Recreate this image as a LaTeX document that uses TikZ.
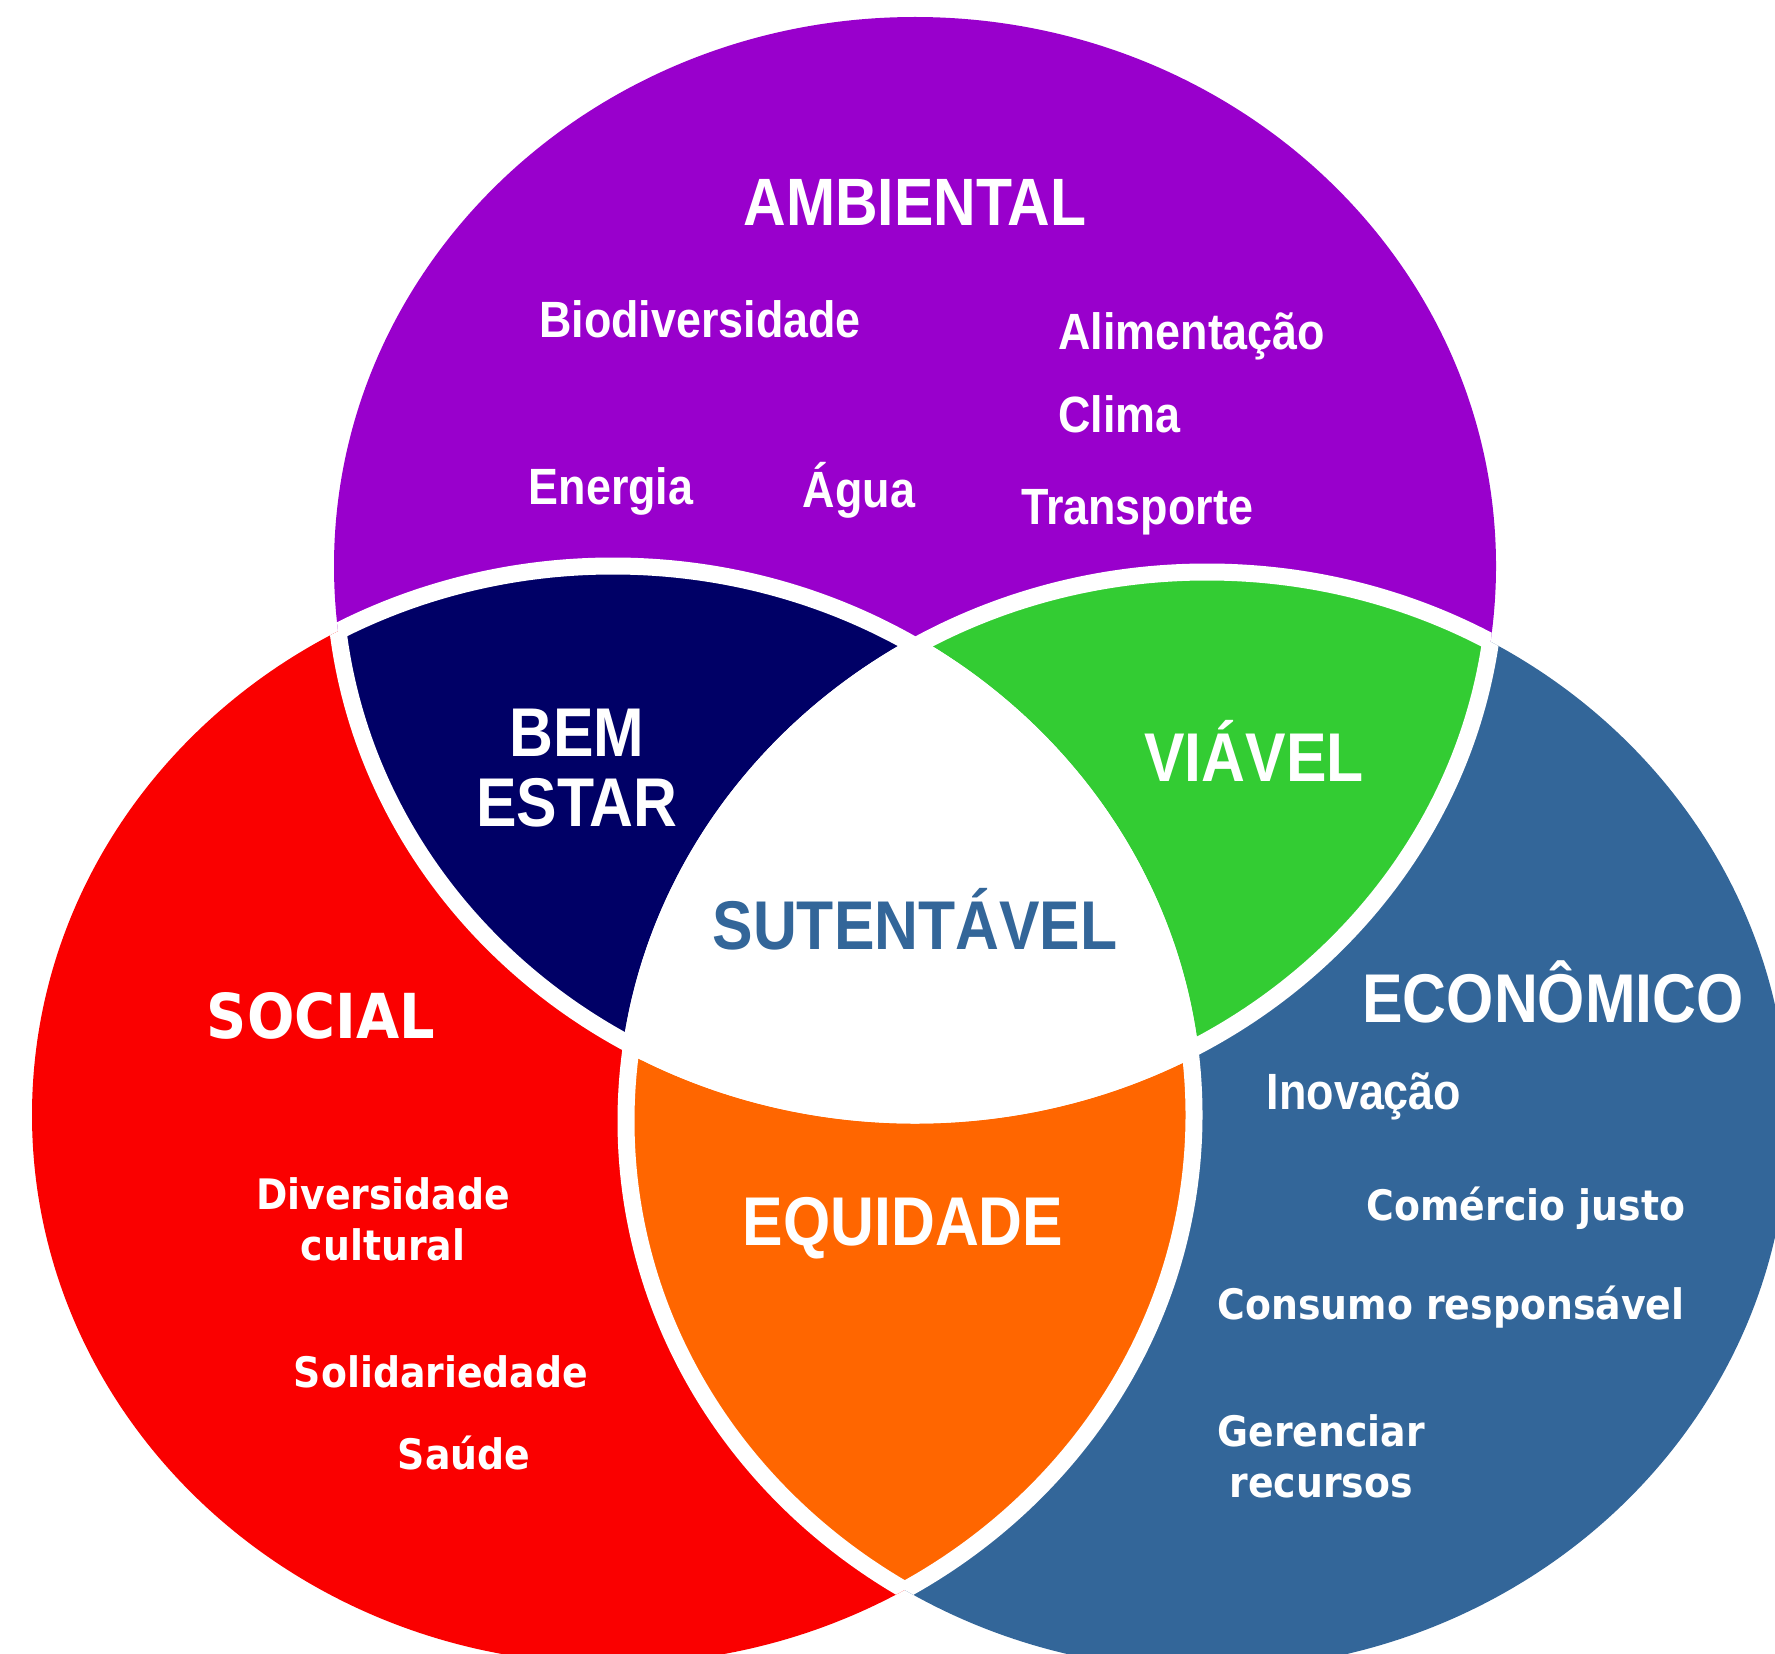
\documentclass[tikz,border=0pt]{standalone}
\usepackage{fontspec}
\newfontfamily\arf[FakeStretch=0.88]{Liberation Sans}
\newfontfamily\vdf[FakeStretch=0.9]{DejaVu Sans}
\definecolor{cpurple}{HTML}{9900CC}
\definecolor{cred}{HTML}{FA0000}
\definecolor{cblue}{HTML}{336699}
\definecolor{cnavy}{HTML}{000066}
\definecolor{cgreen}{HTML}{33CC33}
\definecolor{corange}{HTML}{FF6600}
\tikzset{
  ar/.style={text=white, inner sep=0pt, anchor=base, font=\arf\bfseries\fontsize{#1}{#1}\selectfont},
  vd/.style={text=white, inner sep=0pt, anchor=base, font=\vdf\bfseries\fontsize{#1}{#1}\selectfont},
  sep/.style={white, line width=8.5pt},
}
\def\rx{290.5pt}
\def\ry{274.5pt}
\begin{document}
\begin{tikzpicture}[x=0.5pt,y=-0.5pt]
\useasboundingbox (0,0) rectangle (1775,1653);
\clip (0,0) rectangle (1775,1653);
\coordinate (cA) at (915,566);
\coordinate (cS) at (613,1115);
\coordinate (cE) at (1207,1121);
% base circles
\fill[cpurple] (cA) ellipse [x radius=\rx, y radius=\ry];
\fill[cred] (cS) ellipse [x radius=\rx, y radius=\ry];
\fill[cblue] (cE) ellipse [x radius=\rx, y radius=\ry];
% pairwise intersections
\begin{scope}
  \clip (cA) ellipse [x radius=\rx, y radius=\ry];
  \fill[cnavy] (cS) ellipse [x radius=\rx, y radius=\ry];
  \fill[cgreen] (cE) ellipse [x radius=\rx, y radius=\ry];
\end{scope}
\begin{scope}
  \clip (cS) ellipse [x radius=\rx, y radius=\ry];
  \fill[corange] (cE) ellipse [x radius=\rx, y radius=\ry];
\end{scope}
\begin{scope}
  \clip (cA) ellipse [x radius=\rx, y radius=\ry];
  \clip (cS) ellipse [x radius=\rx, y radius=\ry];
  \fill[white] (cE) ellipse [x radius=\rx, y radius=\ry];
\end{scope}
% white separating lines
\begin{scope}
  \clip (cS) ellipse [x radius=\rx, y radius=\ry];
  \draw[sep] (cA) ellipse [x radius=\rx, y radius=\ry];
  \draw[sep] (cE) ellipse [x radius=\rx, y radius=\ry];
\end{scope}
\begin{scope}
  \clip (cA) ellipse [x radius=\rx, y radius=\ry];
  \draw[sep] (cS) ellipse [x radius=\rx, y radius=\ry];
  \draw[sep] (cE) ellipse [x radius=\rx, y radius=\ry];
\end{scope}
\begin{scope}
  \clip (cE) ellipse [x radius=\rx, y radius=\ry];
  \draw[sep] (cA) ellipse [x radius=\rx, y radius=\ry];
  \draw[sep] (cS) ellipse [x radius=\rx, y radius=\ry];
\end{scope}
% Ambiental
\node[ar=33.5pt] (amb) at (915,226) {AMBIENTAL};
\node[ar=25.5pt] (bio) at (700,337) {Biodiversidade};
\node[ar=25.5pt, anchor=base west] (ali) at (1058,349) {Alimentação};
\node[ar=25.5pt, anchor=base west] (cli) at (1058,432) {Clima};
\node[ar=25.5pt] (ene) at (611,504) {Energia};
\node[ar=25.5pt] (agu) at (859,507) {Água};
\node[ar=25.5pt] (tra) at (1137,524) {Transporte};
% intersections
\node[ar=34.5pt] (bem) at (577,756) {BEM};
\node[ar=34.5pt] (est) at (577,826) {ESTAR};
\node[ar=34.5pt] (via) at (1254,781) {VIÁVEL};
\node[ar=34.5pt, text=cblue] (sus) at (915,949) {SUTENTÁVEL};
\node[ar=34.5pt] (equ) at (903,1245) {EQUIDADE};
% Social
\node[vd=31pt] (soc) at (321,1038) {SOCIAL};
\node[vd=21pt] (div) at (383,1209) {Diversidade};
\node[vd=21pt] (cul) at (383,1260) {cultural};
\node[vd=21pt] (sol) at (441,1387) {Solidariedade};
\node[vd=21pt] (sau) at (464,1469) {Saúde};
% Economico
\node[ar=34.5pt] (eco) at (1553,1022) {ECONÔMICO};
\node[ar=25.5pt] (ino) at (1364,1109) {Inovação};
\node[vd=21pt] (com) at (1526,1220) {Comércio justo};
\node[vd=21pt] (con) at (1451,1319) {Consumo responsável};
\node[vd=21pt] (ger) at (1321,1446) {Gerenciar};
\node[vd=21pt] (rec) at (1321,1497) {recursos};
\end{tikzpicture}
\end{document}
